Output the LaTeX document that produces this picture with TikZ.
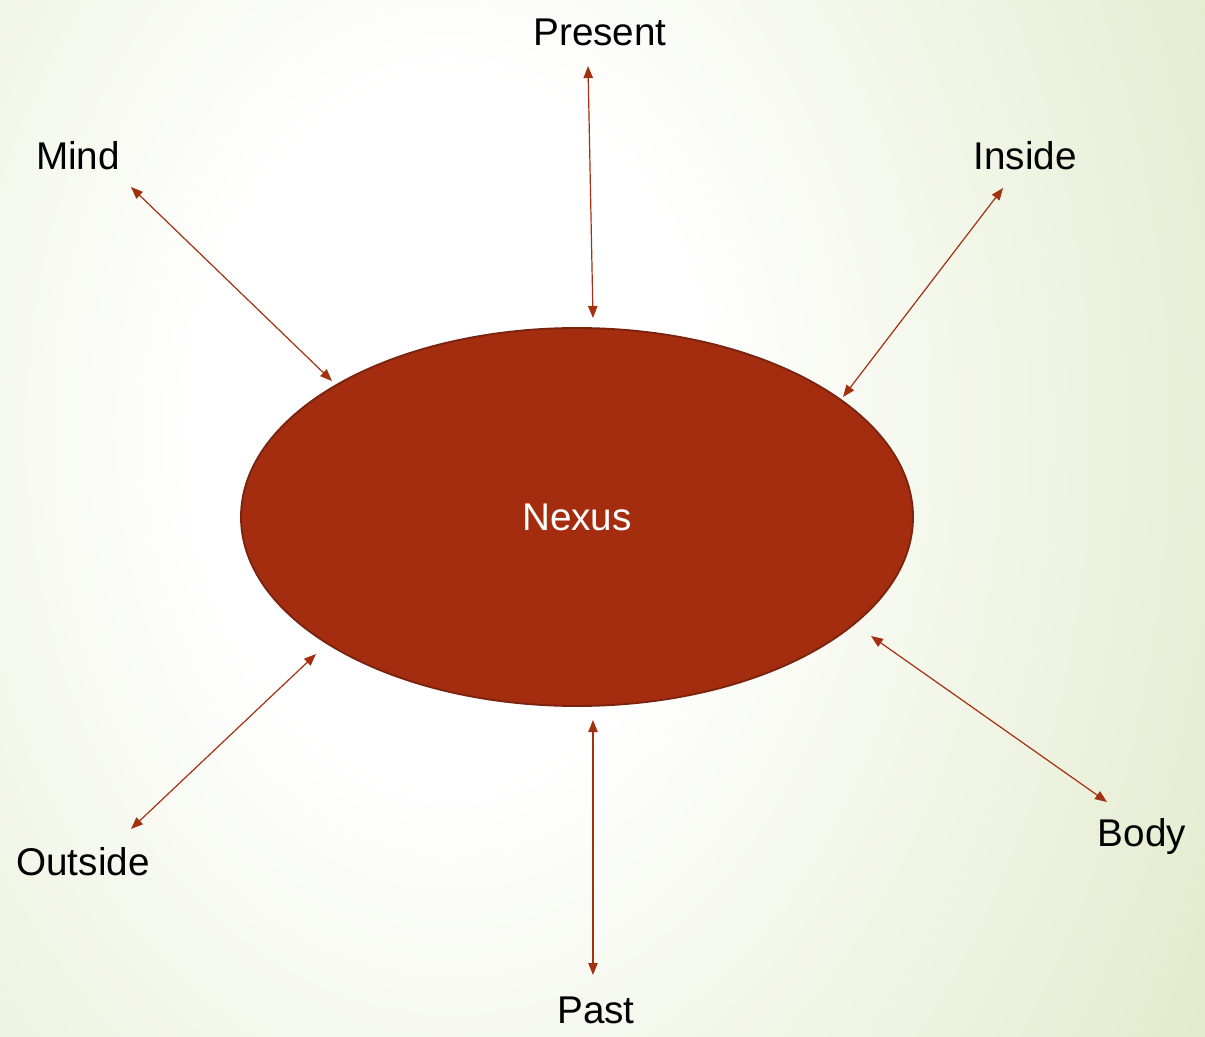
\documentclass[tikz,border=0pt]{standalone}
\usepackage{fontspec}
\setmainfont{Liberation Sans}
\usetikzlibrary{arrows.meta,shapes.geometric}
\definecolor{bgout}{HTML}{E1EACA}
\definecolor{arrowred}{HTML}{A3300F}
\definecolor{nexusfill}{HTML}{A52D0F}
\definecolor{nexusedge}{HTML}{7A2410}
\pgfdeclareradialshading{bgshade}{\pgfpoint{0bp}{0bp}}{color(0bp)=(white); color(6.4bp)=(white); color(22.6bp)=(bgout); color(50bp)=(bgout)}
\tikzset{
  lbl/.style={font=\fontsize{29}{34}\selectfont, text=black, inner sep=0pt},
  link/.style={draw=arrowred, line width=0.9pt, {Triangle[length=9pt,width=7pt]}-{Triangle[length=9pt,width=7pt]}},
}
\begin{document}
\begin{tikzpicture}[x=0.75pt,y=-0.75pt]
\useasboundingbox (0,0) rectangle (1205,1037);
\begin{scope}
\clip (0,0) rectangle (1205,1037);
\fill[bgout] (0,0) rectangle (1205,1037);
\shade[shading=bgshade] (450,430) ellipse [x radius=1000, y radius=1375];
\end{scope}
\node[ellipse, draw=nexusedge, line width=1.4pt, fill=nexusfill, minimum width=504pt, minimum height=283.5pt, inner sep=0pt, font=\fontsize{29}{34}\selectfont, text=white] (nexus) at (577,517) {Nexus};
\node[lbl] (present) at (600,32) {Present};
\node[lbl] (mind) at (78,156) {Mind};
\node[lbl] (inside) at (1025,156) {Inside};
\node[lbl] (outside) at (83,862) {Outside};
\node[lbl] (past) at (596,1010) {Past};
\node[lbl] (body) at (1142,836) {Body};
\coordinate (pA) at (588,66);  \coordinate (pB) at (593,318);
\coordinate (mA) at (131,187); \coordinate (mB) at (332,381);
\coordinate (iA) at (1003,188);\coordinate (iB) at (843,397);
\coordinate (oA) at (131,829); \coordinate (oB) at (316,654);
\coordinate (tA) at (593,720); \coordinate (tB) at (593,975);
\coordinate (bA) at (871,636); \coordinate (bB) at (1107,802);
\draw[link] (pA) -- (pB);
\draw[link] (mA) -- (mB);
\draw[link] (iA) -- (iB);
\draw[link] (oA) -- (oB);
\draw[link] (tA) -- (tB);
\draw[link] (bA) -- (bB);
\end{tikzpicture}
\end{document}
